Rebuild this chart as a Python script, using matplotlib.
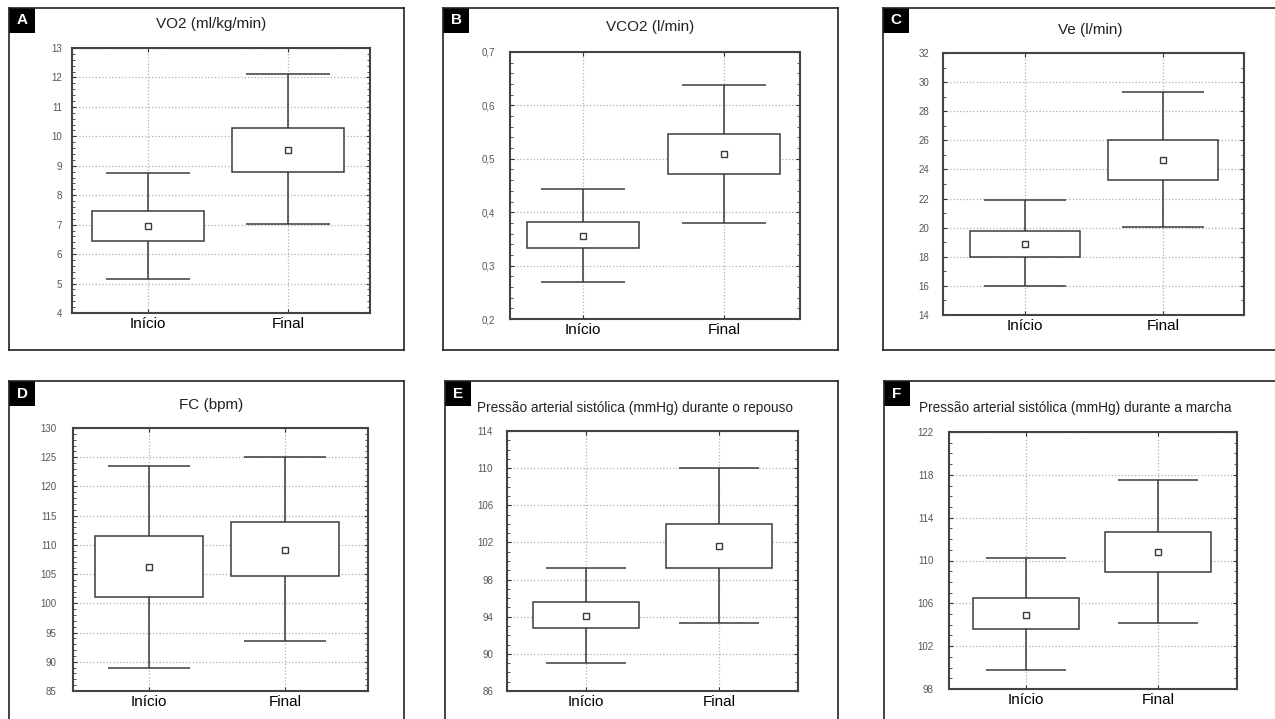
import matplotlib
matplotlib.use("Agg")
import numpy as np
import matplotlib.pyplot as plt
from matplotlib.lines import Line2D
from matplotlib.patches import Rectangle
from matplotlib.ticker import AutoMinorLocator

plt.rcParams['font.family'] = ['Liberation Sans', 'DejaVu Sans']

# data
categories = ['Início', 'Final']
letters = ['A', 'B', 'C', 'D', 'E', 'F']
titles = ['VO2 (ml/kg/min)', 'VCO2 (l/min)', 'Ve (l/min)', 'FC (bpm)',
          'Pressão arterial sistólica (mmHg) durante o repouso',
          'Pressão arterial sistólica (mmHg) durante a marcha']
# per panel: [Início, Final]
means = [[6.95, 9.54], [0.356, 0.509], [18.87, 24.63],
         [106.2, 109.1], [94.05, 101.6], [104.9, 110.8]]
box_lo = [[6.45, 8.79], [0.333, 0.472], [18.0, 23.28],
          [101.1, 104.6], [92.76, 99.22], [103.6, 108.97]]
box_hi = [[7.47, 10.29], [0.382, 0.546], [19.76, 26.04],
          [111.5, 114.0], [95.6, 103.97], [106.48, 112.68]]
whisk_lo = [[5.14, 7.01], [0.269, 0.379], [15.97, 20.04],
            [89.0, 93.5], [89.02, 93.29], [99.77, 104.14]]
whisk_hi = [[8.76, 12.11], [0.443, 0.639], [21.89, 29.31],
            [123.5, 125.0], [99.26, 110.0], [110.22, 117.54]]
ylims = [(4, 13), (0.2, 0.7), (14, 32), (85, 130), (86, 114), (98, 122)]
ysteps = [1, 0.1, 2, 5, 4, 4]
minor_div = [5, 5, 2, 5, 4, 4]

W, H = 1275, 719
fig = plt.figure(figsize=(W / 100, H / 100), dpi=100)

# layout in pixels
ax_px = [(72, 48, 370, 313), (510, 52, 800, 319), (943, 53, 1244, 315),
         (73, 428, 368, 691), (507, 431, 798, 691), (949, 432, 1237, 689)]
xlims = [(-0.543, 1.586), (-0.518, 1.539), (-0.594, 1.587),
         (-0.559, 1.61), (-0.594, 1.594), (-0.583, 1.598)]
ypads = [7, 11, 10, 12, 10, 11]
frames = [(9, 8, 404, 350, True, True), (443, 8, 838, 350, True, True),
          (883, 8, 1290, 350, False, True), (9, 381, 404, 740, True, False),
          (445, 381, 838, 740, True, False), (884, 381, 1290, 740, False, False)]
title_pos = [(211, 24, 'center'), (650, 27, 'center'), (1090, 30, 'center'),
             (211, 405, 'center'), (477, 408, 'left'), (919, 408, 'left')]
title_size = [11, 11, 11, 11, 9.8, 9.8]


def fx(x):
    return x / W


def fy(y):
    return 1 - y / H


edge = '#3a3a3a'
for i in range(6):
    l, t, r, b = ax_px[i]
    ax = fig.add_axes([fx(l), fy(b), (r - l) / W, (b - t) / H])
    xs = [0, 1]
    lo = box_lo[i]
    hi = box_hi[i]
    ax.bar(xs, [hi[k] - lo[k] for k in range(2)], bottom=lo, width=0.8,
           facecolor='white', edgecolor=edge, linewidth=1.1, zorder=3)
    ax.vlines(xs, whisk_lo[i], lo, color=edge, lw=1.1, zorder=3)
    ax.vlines(xs, hi, whisk_hi[i], color=edge, lw=1.1, zorder=3)
    ax.hlines(whisk_lo[i], [x - 0.3 for x in xs], [x + 0.3 for x in xs],
              color=edge, lw=1.1, zorder=3)
    ax.hlines(whisk_hi[i], [x - 0.3 for x in xs], [x + 0.3 for x in xs],
              color=edge, lw=1.1, zorder=3)
    ax.plot(xs, means[i], 's', ms=4.5, mfc='white', mec=edge, mew=1.0, zorder=4)

    ax.set_xlim(*xlims[i])
    ax.set_xticks(xs)
    ax.set_xticklabels(categories, fontsize=11, color='black')
    y0, y1 = ylims[i]
    ticks = np.arange(y0, y1 + ysteps[i] / 2, ysteps[i])
    ax.set_yticks(ticks)
    if i == 1:
        ax.set_yticklabels([('%.1f' % v).replace('.', ',') for v in ticks])
    else:
        ax.set_yticklabels(['%d' % round(v) for v in ticks])
    ax.yaxis.set_minor_locator(AutoMinorLocator(minor_div[i]))
    ax.set_ylim(y0, y1)
    ax.tick_params(axis='y', which='both', direction='in', left=True, right=True,
                   labelsize=7, labelcolor='#555555', color='#333333', pad=ypads[i])
    ax.tick_params(axis='y', which='major', length=3)
    ax.tick_params(axis='y', which='minor', length=2)
    ax.tick_params(axis='x', direction='in', top=True, bottom=True, length=3,
                   pad=3, color='#333333')
    ax.grid(True, which='major', linestyle=':', color='#b0b0b0', linewidth=0.9)
    ax.set_axisbelow(True)
    for s in ax.spines.values():
        s.set_color('#444444')
        s.set_linewidth(1.5)

    # outer panel frame
    fl, ft, fr, fb, has_right, has_bottom = frames[i]
    fig.add_artist(Line2D([fx(fl), fx(fl)], [fy(ft), fy(fb)], color='#222222', lw=1.2))
    fig.add_artist(Line2D([fx(fl), fx(fr)], [fy(ft), fy(ft)], color='#222222', lw=1.2))
    if has_right:
        fig.add_artist(Line2D([fx(fr), fx(fr)], [fy(ft), fy(fb)], color='#222222', lw=1.2))
    if has_bottom:
        fig.add_artist(Line2D([fx(fl), fx(fr)], [fy(fb), fy(fb)], color='#222222', lw=1.2))

    # letter badge
    fig.add_artist(Rectangle((fx(fl), fy(ft + 25)), 26 / W, 25 / H,
                             facecolor='black', edgecolor='none'))
    fig.text(fx(fl + 13), fy(ft + 12.5), letters[i], color='white', fontsize=11,
             fontweight='bold', ha='center', va='center')

    tx, ty, ha = title_pos[i]
    fig.text(fx(tx), fy(ty), titles[i], fontsize=title_size[i], ha=ha,
             va='center', color='#222222')

fig.savefig('out.png', dpi=100)
